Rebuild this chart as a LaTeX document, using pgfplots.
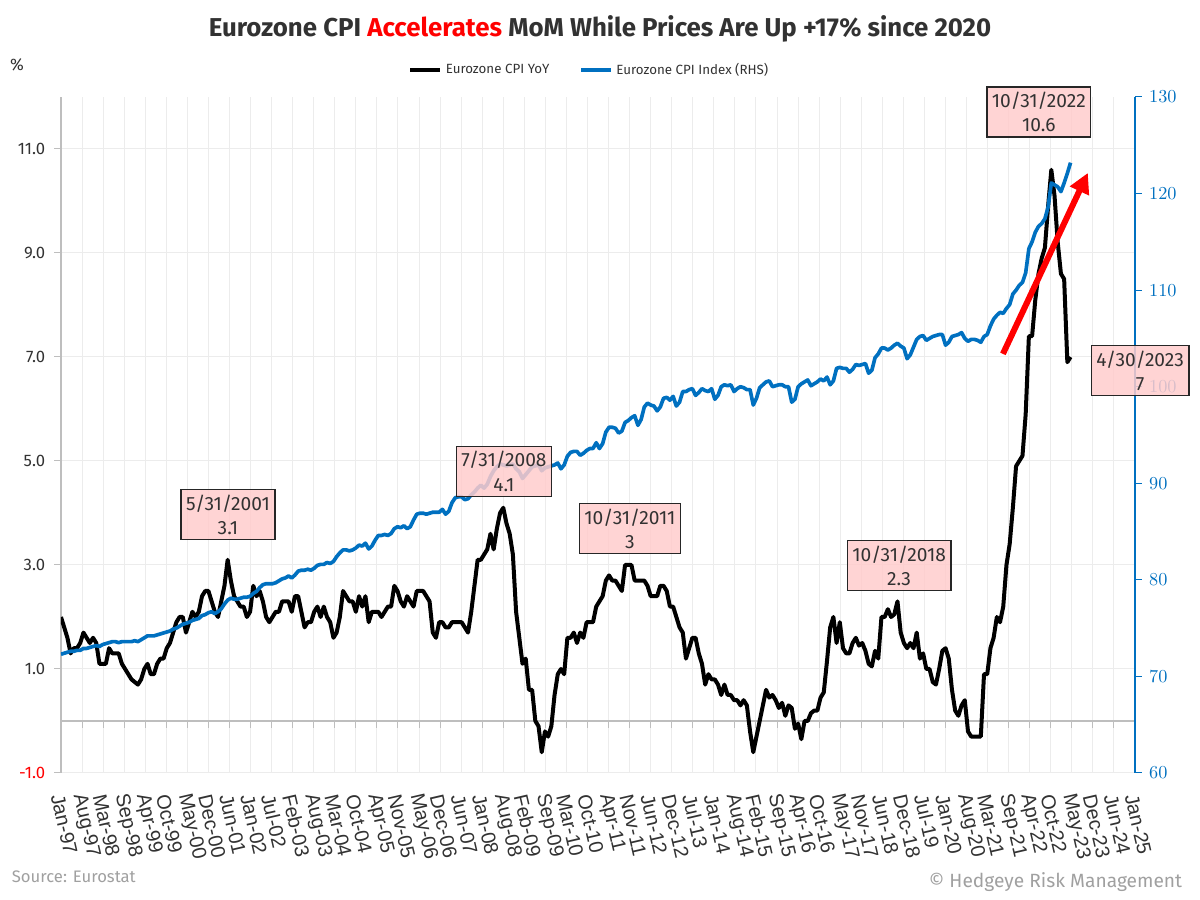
\documentclass[border=0pt]{standalone}
\usepackage{pgfplots}
\pgfplotsset{compat=1.18}
\usepackage{pgfplotstable}
\usepackage{fontspec}
\setmainfont{Fira Sans}
\newfontfamily\xfont{Liberation Sans}
\usetikzlibrary{arrows.meta}
\definecolor{cpiblue}{RGB}{0,112,192}
\definecolor{boxpink}{RGB}{255,204,204}
\definecolor{txtgray}{RGB}{50,50,50}
\definecolor{gridgray}{RGB}{236,236,236}
\definecolor{axgray}{RGB}{190,190,190}
\definecolor{srcgray}{RGB}{160,160,160}

\pgfplotstableread[row sep=\\]{
yoy idx\\
2.0 72.3\\1.8 72.4\\1.6 72.5\\1.3 72.6\\1.4 72.6\\1.4 72.7\\1.5 72.7\\1.7 72.9\\1.6 72.9\\1.5 73.0\\1.6 73.1\\1.5 73.2\\
1.1 73.1\\1.1 73.3\\1.1 73.4\\1.4 73.5\\1.3 73.6\\1.3 73.6\\1.3 73.5\\1.1 73.6\\1.0 73.6\\0.9 73.6\\0.8 73.6\\0.75 73.7\\
0.7 73.6\\0.8 73.8\\1.0 74.0\\1.1 74.2\\0.9 74.2\\0.9 74.2\\1.1 74.3\\1.2 74.4\\1.2 74.5\\1.4 74.6\\1.5 74.7\\1.7 74.9\\
1.9 75.0\\2.0 75.2\\2.0 75.4\\1.7 75.5\\1.9 75.6\\2.1 75.8\\2.0 75.9\\2.1 76.0\\2.4 76.3\\2.5 76.4\\2.5 76.6\\2.3 76.7\\
2.1 76.5\\2.0 76.7\\2.3 77.0\\2.6 77.5\\3.1 77.9\\2.7 78.1\\2.4 78.0\\2.3 78.0\\2.2 78.1\\2.2 78.2\\2.0 78.2\\2.1 78.3\\
2.6 78.6\\2.4 78.8\\2.5 79.2\\2.3 79.5\\2.0 79.6\\1.9 79.6\\2.0 79.6\\2.1 79.7\\2.1 79.9\\2.3 80.1\\2.3 80.2\\2.3 80.4\\
2.1 80.2\\2.4 80.5\\2.4 80.9\\2.1 81.0\\1.8 81.0\\1.9 81.1\\1.9 81.0\\2.1 81.2\\2.2 81.5\\2.0 81.6\\2.2 81.6\\2.0 81.8\\
1.9 81.7\\1.6 81.9\\1.7 82.4\\2.0 82.8\\2.5 83.1\\2.4 83.1\\2.3 83.0\\2.3 83.1\\2.1 83.3\\2.4 83.6\\2.2 83.5\\2.4 83.8\\
1.9 83.2\\2.1 83.5\\2.1 84.1\\2.1 84.6\\2.0 84.6\\2.1 84.7\\2.2 84.6\\2.2 84.8\\2.6 85.3\\2.5 85.5\\2.3 85.4\\2.2 85.6\\
2.4 85.3\\2.3 85.5\\2.2 86.2\\2.5 86.8\\2.5 86.9\\2.5 86.9\\2.4 86.8\\2.3 86.9\\1.7 87.0\\1.6 87.0\\1.9 87.0\\1.9 87.3\\
1.8 86.8\\1.8 87.1\\1.9 88.0\\1.9 88.5\\1.9 88.6\\1.9 88.6\\1.8 88.3\\1.7 88.4\\2.1 88.8\\2.6 89.1\\3.1 89.5\\3.1 89.8\\
3.2 89.5\\3.3 89.9\\3.6 90.7\\3.3 91.3\\3.7 91.7\\4.0 92.0\\4.1 91.9\\3.8 91.8\\3.6 91.9\\3.2 92.0\\2.1 91.5\\1.6 91.2\\
1.1 90.5\\1.2 90.9\\0.6 91.3\\0.6 91.7\\0.0 91.8\\-0.1 91.9\\-0.6 91.3\\-0.2 91.6\\-0.3 91.7\\-0.1 91.8\\0.5 91.9\\0.9 92.1\\
1.0 91.5\\0.9 91.9\\1.6 92.8\\1.6 93.2\\1.7 93.3\\1.5 93.3\\1.7 92.9\\1.6 93.1\\1.9 93.4\\1.9 93.6\\1.9 93.6\\2.2 94.2\\
2.3 93.6\\2.4 94.1\\2.7 95.3\\2.8 95.8\\2.7 95.8\\2.7 95.7\\2.6 95.2\\2.5 95.4\\3.0 96.3\\3.0 96.5\\3.0 96.8\\2.7 97.0\\
2.7 96.0\\2.7 96.6\\2.7 97.9\\2.6 98.3\\2.4 98.1\\2.4 98.0\\2.4 97.5\\2.6 97.9\\2.6 98.8\\2.5 98.9\\2.2 98.6\\2.2 99.0\\
2.0 98.0\\1.8 98.4\\1.7 99.5\\1.2 99.5\\1.4 99.7\\1.6 99.8\\1.6 99.1\\1.3 99.4\\1.1 99.8\\0.7 99.6\\0.9 99.5\\0.8 99.8\\
0.8 98.7\\0.7 99.1\\0.5 100.0\\0.7 100.2\\0.5 100.1\\0.5 100.2\\0.4 99.5\\0.4 99.8\\0.3 100.0\\0.4 99.9\\0.3 99.7\\-0.2 99.7\\
-0.6 98.1\\-0.3 98.8\\0.0 99.9\\0.3 100.2\\0.6 100.5\\0.45 100.6\\0.5 100.0\\0.4 100.1\\0.25 100.2\\0.35 100.2\\0.1 100.0\\0.3 100.0\\
0.25 98.4\\-0.15 98.7\\-0.05 100.0\\-0.35 100.3\\0.0 100.5\\0.0 100.7\\0.15 100.1\\0.2 100.3\\0.2 100.5\\0.45 100.8\\0.55 100.6\\1.15 101.0\\
1.8 100.2\\2.0 100.6\\1.5 101.9\\1.9 102.0\\1.4 101.9\\1.3 101.9\\1.3 101.5\\1.5 101.8\\1.6 102.3\\1.45 102.2\\1.5 102.3\\1.35 102.4\\
1.1 101.4\\1.05 101.7\\1.35 103.0\\1.2 103.4\\2.0 104.0\\2.0 104.0\\2.15 103.8\\2.0 104.0\\2.05 104.3\\2.3 104.5\\1.7 104.2\\1.5 104.0\\
1.4 102.9\\1.5 103.3\\1.4 104.1\\1.7 104.9\\1.2 105.2\\1.3 105.3\\1.0 104.8\\1.0 105.0\\0.75 105.2\\0.7 105.3\\1.0 105.4\\1.35 105.4\\
1.4 104.3\\1.2 104.6\\0.6 105.2\\0.2 105.3\\0.1 105.4\\0.3 105.6\\0.4 105.0\\-0.2 104.7\\-0.3 104.9\\-0.3 104.9\\-0.3 104.8\\-0.3 104.6\\
0.9 105.2\\0.9 105.4\\1.4 106.3\\1.6 107.0\\2.0 107.4\\1.9 107.7\\2.2 107.6\\3.0 108.1\\3.4 108.5\\4.1 109.6\\4.9 110.0\\5.0 110.5\\
5.1 110.8\\5.9 111.8\\7.4 114.3\\7.4 115.0\\8.1 116.0\\8.6 116.6\\8.9 116.9\\9.1 117.4\\9.9 118.6\\10.6 121.1\\10.1 120.9\\9.2 120.7\\
8.6 120.2\\8.5 121.1\\6.9 122.1\\7.0 123.2\\
}\cpidata

\pgfplotsset{
  common/.style={
    at={(0,0)}, anchor=south west, scale only axis,
    width=644.4pt, height=405.6pt,
    xmin=0, xmax=335.11,
    xtick={0,6.57084,...,336},
  }
}

\begin{document}
\begin{tikzpicture}[x=1pt,y=1pt]
\path[use as bounding box] (-36.6,-76.2) rectangle (683.4,463.8);

% left axis: YoY
\begin{axis}[common,
  ymin=-1, ymax=12,
  axis x line=middle, axis y line*=left,
  x axis line style={-, draw=axgray, line width=0.8pt},
  y axis line style={-, draw=axgray, line width=0.8pt},
  xticklabels={},
  xtick style={draw=axgray, line width=0.6pt},
  ytick style={draw=axgray, line width=0.6pt},
  tick align=outside, major tick length=4pt,
  ytick={-1,1,3,5,7,9,11},
  yticklabels={\textcolor{red}{-1.0},1.0,3.0,5.0,7.0,9.0,11.0},
  yticklabel style={font=\fontsize{10}{10}\selectfont, text=txtgray, xshift=-2pt},
  xmajorgrids, ymajorgrids,
  grid style={draw=gridgray, line width=0.6pt},
  legend style={at={(0.4926,1.04)}, anchor=center, draw=none, fill=none,
    legend columns=2, font=\fontsize{8}{8}\selectfont\color{txtgray},
    /tikz/every even column/.append style={column sep=16pt}},
  legend image code/.code={\draw[#1] (0pt,0pt) -- (18pt,0pt);},
]
\addplot[black, line width=2.4pt, line join=round] table[x expr=\coordindex, y=yoy] {\cpidata};
\addlegendentry{Eurozone CPI YoY}
\addlegendimage{cpiblue, line width=2.2pt}
\addlegendentry{Eurozone CPI Index (RHS)}
\coordinate (b1) at (axis cs:52.1,3.97);
\coordinate (b2) at (axis cs:138.2,4.80);
\coordinate (b3) at (axis cs:177.5,3.70);
\coordinate (b4) at (axis cs:261.5,2.99);
\coordinate (b5) at (axis cs:305.1,11.71);
\coordinate (b6) at (axis cs:336.7,6.74);
\coordinate (a0) at (axis cs:293.9,7.06);
\coordinate (a1) at (axis cs:320.4,10.54);
\end{axis}

% right axis: index
\begin{axis}[common,
  ymin=60, ymax=130,
  axis x line*=bottom, axis y line*=right,
  x axis line style={draw=none},
  y axis line style={-, draw=cpiblue, line width=0.8pt},
  xtick style={draw=none},
  ytick style={draw=cpiblue, line width=0.6pt},
  tick align=outside, major tick length=4pt,
  ytick={60,70,...,130},
  yticklabel style={font=\fontsize{10.5}{10.5}\selectfont, text=cpiblue, xshift=1pt},
  xticklabels={Jan-97,Aug-97,Mar-98,Sep-98,Apr-99,Oct-99,May-00,Dec-00,Jun-01,Jan-02,Jul-02,Feb-03,Aug-03,Mar-04,Oct-04,Apr-05,Nov-05,May-06,Dec-06,Jun-07,Jan-08,Aug-08,Feb-09,Sep-09,Mar-10,Oct-10,Apr-11,Nov-11,Jun-12,Dec-12,Jul-13,Jan-14,Aug-14,Feb-15,Sep-15,Apr-16,Oct-16,May-17,Nov-17,Jun-18,Dec-18,Jul-19,Jan-20,Aug-20,Mar-21,Sep-21,Apr-22,Oct-22,May-23,Dec-23,Jun-24,Jan-25},
  xticklabel style={font=\xfont\fontsize{12}{12}\selectfont, text=txtgray, xshift=-3pt, yshift=-5.5pt, rotate=-77, anchor=west},
]
\addplot[cpiblue, line width=2.2pt, line join=round] table[x expr=\coordindex, y=idx] {\cpidata};
\end{axis}

% annotations
\draw[red, line width=3.6pt, -{Triangle[length=12pt, width=12pt]}] (a0) -- (a1);
\tikzset{anno/.style={draw=black!85, line width=0.8pt, fill=boxpink, fill opacity=0.85, text opacity=1,
  align=center, text=txtgray, font=\fontsize{11.5}{14.5}\selectfont, inner xsep=3pt, inner ysep=3pt}}
\node[anno] at (b1) {5/31/2001\\3.1};
\node[anno] at (b2) {7/31/2008\\4.1};
\node[anno] at (b3) {10/31/2011\\3};
\node[anno] at (b4) {10/31/2018\\2.3};
\node[anno] at (b5) {10/31/2022\\10.6};
\node[anno] at (b6) {4/30/2023\\7};

% titles and notes
\node[anchor=base, text=txtgray, font=\bfseries\fontsize{15.5}{15.5}\selectfont] at (323.4,441.6)
  {Eurozone CPI \textcolor{red}{Accelerates} MoM While Prices Are Up +17\% since 2020};
\node[anchor=center, text=txtgray, font=\fontsize{10}{10}\selectfont] at (-26.4,424.8) {\%};
\node[anchor=base west, text=srcgray, font=\fontsize{10}{10}\selectfont] at (-33,-66) {Source: Eurostat};
\node[anchor=base east, text=srcgray, font=\fontsize{11.5}{11.5}\selectfont] at (676.2,-69) {\textcopyright{} Hedgeye Risk Management};
\end{tikzpicture}
\end{document}
